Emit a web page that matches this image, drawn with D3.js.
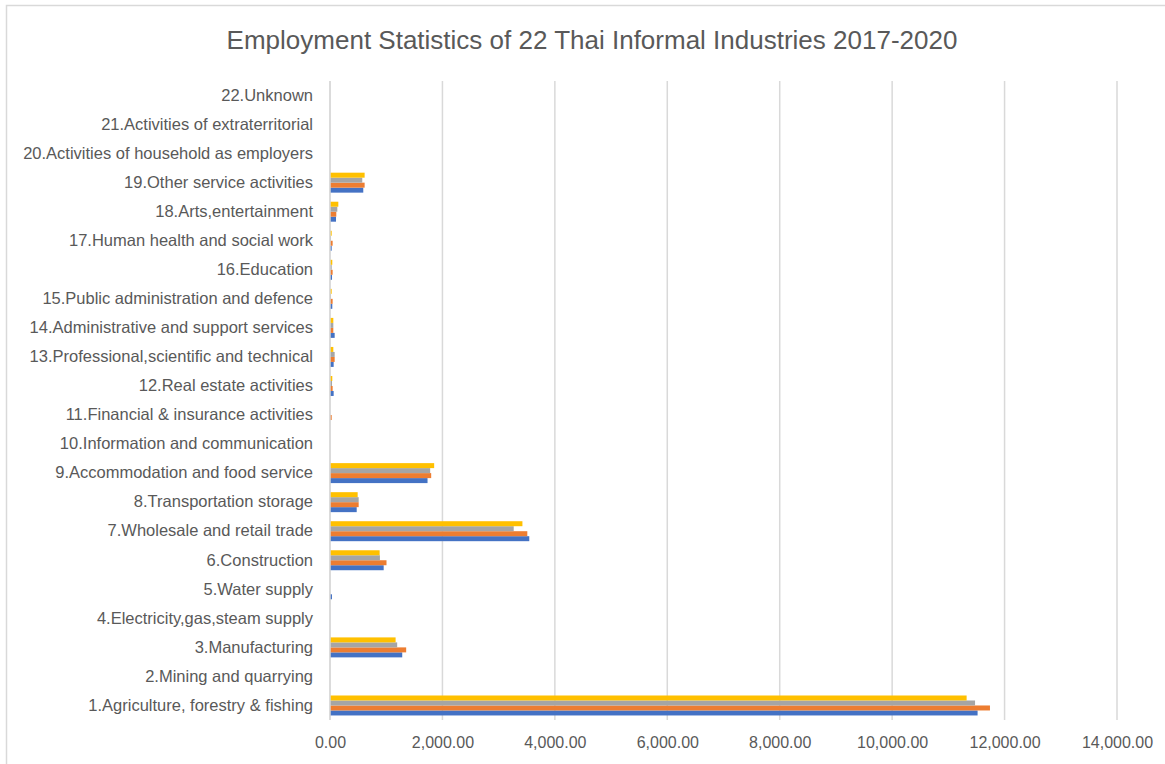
<!DOCTYPE html>
<html>
<head>
<meta charset="utf-8">
<script src="https://cdn.jsdelivr.net/npm/d3@7"></script>
<style>
  body { margin: 0; background: #fff; }
  svg { display: block; }
  text { font-family: "Liberation Sans", Arial, sans-serif; fill: #595959; }
</style>
</head>
<body>
<svg id="chart" width="1165" height="764"></svg>
<script>
// industries, 1 -> 22 (drawn bottom to top)
var industries = [
  "1.Agriculture, forestry & fishing",
  "2.Mining and quarrying",
  "3.Manufacturing",
  "4.Electricity,gas,steam supply",
  "5.Water supply",
  "6.Construction",
  "7.Wholesale and retail trade",
  "8.Transportation storage",
  "9.Accommodation and food service",
  "10.Information and communication",
  "11.Financial & insurance activities",
  "12.Real estate activities",
  "13.Professional,scientific and technical",
  "14.Administrative and support services",
  "15.Public administration and defence",
  "16.Education",
  "17.Human health and social work",
  "18.Arts,entertainment",
  "19.Other service activities",
  "20.Activities of household as employers",
  "21.Activities of extraterritorial",
  "22.Unknown"
];

var years = ["2017", "2018", "2019", "2020"];

// values per year, same order as industries (thousand persons)
var v2017 = [11520, 0, 1285, 0, 35, 955, 3545, 475, 1735, 0, 0, 65, 65, 83, 41, 36, 30, 107, 592, 0, 0, 0];
var v2018 = [11740, 0, 1355, 0, 0, 1005, 3510, 510, 1800, 0, 30, 47, 83, 59, 47, 47, 47, 112, 616, 0, 0, 0];
var v2019 = [11475, 0, 1195, 0, 0, 888, 3268, 510, 1782, 0, 0, 36, 83, 59, 18, 30, 18, 130, 574, 0, 0, 0];
var v2020 = [11325, 0, 1167, 0, 0, 883, 3423, 492, 1853, 0, 0, 41, 59, 59, 30, 41, 30, 148, 616, 0, 0, 0];

var xTicks = [0, 2000, 4000, 6000, 8000, 10000, 12000, 14000];

var colors = { "2017": "#4472C4", "2018": "#ED7D31", "2019": "#A5A5A5", "2020": "#FFC000" };

var series = { "2017": v2017, "2018": v2018, "2019": v2019, "2020": v2020 };

var data = industries.map(function(name, i) {
  return {
    name: name,
    values: years.map(function(y) { return { year: y, value: series[y][i] }; })
  };
});

var svg = d3.select("#chart");

// chart area border (Excel-like)
svg.append("rect")
  .attr("x", 6.5).attr("y", 5.5)
  .attr("width", 1170).attr("height", 780)
  .attr("fill", "none")
  .attr("stroke", "#D9D9D9")
  .attr("stroke-width", 1.5);

// scales
var xScale = d3.scaleLinear()
  .domain([0, 14000])
  .range([330, 1117]);

var yScale = d3.scaleBand()
  .domain(industries.slice().reverse())
  .range([81, 720])
  .paddingInner(0.3125)
  .paddingOuter(0.15625);

var ySub = d3.scaleBand()
  .domain(years.slice().reverse())
  .range([0, yScale.bandwidth()]);

// gridlines
svg.append("g")
  .selectAll("line")
  .data(xTicks)
  .enter().append("line")
  .attr("x1", function(d) { return xScale(d); })
  .attr("x2", function(d) { return xScale(d); })
  .attr("y1", 81)
  .attr("y2", 720)
  .attr("stroke", "#D9D9D9")
  .attr("stroke-width", 1.5);

// bars
var groups = svg.append("g")
  .selectAll("g")
  .data(data)
  .enter().append("g")
  .attr("transform", function(d) { return "translate(0," + yScale(d.name) + ")"; });

groups.selectAll("rect")
  .data(function(d) { return d.values; })
  .enter().append("rect")
  .attr("x", xScale(0))
  .attr("y", function(d) { return ySub(d.year); })
  .attr("width", function(d) { return xScale(d.value) - xScale(0); })
  .attr("height", ySub.bandwidth())
  .attr("fill", function(d) { return colors[d.year]; });

// category axis line
svg.append("line")
  .attr("x1", xScale(0)).attr("x2", xScale(0))
  .attr("y1", 81).attr("y2", 720)
  .attr("stroke", "#D9D9D9")
  .attr("stroke-width", 1.5);

// y axis labels
var yAxis = svg.append("g")
  .attr("transform", "translate(" + (xScale(0) - 10) + ",0)")
  .call(d3.axisLeft(yScale).tickSize(0).tickPadding(7));
yAxis.select(".domain").remove();
yAxis.selectAll("text")
  .style("font-size", "16.5px")
  .style("font-family", "'Liberation Sans', Arial, sans-serif")
  .attr("fill", "#595959");

// x axis
var xAxis = svg.append("g")
  .attr("transform", "translate(0,729)")
  .call(d3.axisBottom(xScale).tickValues(xTicks).tickFormat(d3.format(",.2f")).tickSize(0).tickPadding(8));
xAxis.select(".domain").remove();
xAxis.selectAll("text")
  .style("font-size", "16px")
  .style("font-family", "'Liberation Sans', Arial, sans-serif")
  .attr("fill", "#595959");

// title
svg.append("text")
  .attr("x", 592)
  .attr("y", 49)
  .style("text-anchor", "middle")
  .style("font-size", "26px")
  .text("Employment Statistics of 22 Thai Informal Industries 2017-2020");
</script>
</body>
</html>
